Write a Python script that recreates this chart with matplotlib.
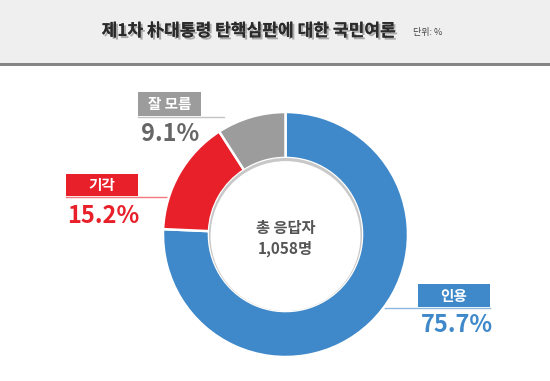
import matplotlib
matplotlib.use("Agg")
import matplotlib.pyplot as plt
import matplotlib.patheffects as pe
from matplotlib.patches import Rectangle, Circle

plt.rcParams["font.family"] = ["Noto Sans CJK KR", "DejaVu Sans"]

# data
labels = ["인용", "기각", "잘 모름"]
shares = [75.7, 15.2, 9.1]
colors = ["#3f88c9", "#e8202a", "#9c9c9c"]
title = "제1차 朴대통령 탄핵심판에 대한 국민여론"
unit = "단위: %"
center_lines = ["총 응답자", "1,058명"]

W, H = 550, 381
fig = plt.figure(figsize=(W / 100, H / 100), dpi=100)
fig.patch.set_facecolor("white")

# overlay in pixel coordinates (origin top-left)
ov = fig.add_axes([0, 0, 1, 1])
ov.set_xlim(0, W)
ov.set_ylim(H, 0)
ov.axis("off")

# header band
ov.add_patch(Rectangle((0, 0), W, 63, facecolor="#efefef", edgecolor="none"))
ov.add_patch(Rectangle((0, 63), W, 2.5, facecolor="#858585", edgecolor="none"))
ov.text(249, 31, title, ha="center", va="center", fontsize=12.3,
        fontweight="bold", color="#2b2b2b",
        path_effects=[pe.withSimplePatchShadow(offset=(1.5, -1.5), alpha=0.3),
                      pe.Normal()])
ov.text(413, 33, unit, ha="left", va="center", fontsize=6.5, color="#444444")

# donut
cx, cy, r = 285.5, 234.5, 122.5
pax = fig.add_axes([(cx - r) / W, (H - cy - r) / H, 2 * r / W, 2 * r / H])
pax.pie(shares, colors=colors, startangle=90, counterclock=False,
        radius=1, wedgeprops=dict(width=0.375, edgecolor="white", linewidth=1.8))
pax.add_patch(Circle((0, 0), 0.625, facecolor="#c8c8c8", edgecolor="none"))
pax.add_patch(Circle((0, -0.013), 0.612, facecolor="white", edgecolor="none"))
pax.set_xlim(-1, 1)
pax.set_ylim(-1, 1)
pax.set_aspect("equal")
pax.axis("off")

pax.text(0, 0.05, center_lines[0], ha="center", va="center", fontsize=11,
         fontweight="bold", color="#555555")
pax.text(0, -0.115, center_lines[1], ha="center", va="center", fontsize=11,
         fontweight="bold", color="#555555")

# callouts: box (x0, y0, x1, y1), leader line end x, value text position
callouts = [
    (0, (418, 284, 490, 307), 380, (457, 325)),
    (1, (66, 174, 138, 196), 168, (103, 216)),
    (2, (138, 92, 201, 116), 224, (170, 134)),
]
for i, (x0, y0, x1, y1), lx, (tx, ty) in callouts:
    col = colors[i]
    if lx > x1:
        ov.plot([x0, lx], [y1 + 1, y1 + 1], color=col, lw=1, alpha=0.6)
    else:
        ov.plot([lx, x1], [y1 + 1, y1 + 1], color=col, lw=1, alpha=0.6)
    ov.add_patch(Rectangle((x0, y0), x1 - x0, y1 - y0, facecolor=col,
                           edgecolor="none"))
    ov.text((x0 + x1) / 2, (y0 + y1) / 2, labels[i], ha="center", va="center",
            fontsize=10.5, fontweight="bold", color="white")
    vcol = "#666666" if i == 2 else col
    ov.text(tx, ty, f"{shares[i]}%", ha="center", va="center", fontsize=17,
            fontweight="bold", color=vcol)

fig.savefig("out.png", dpi=100)
